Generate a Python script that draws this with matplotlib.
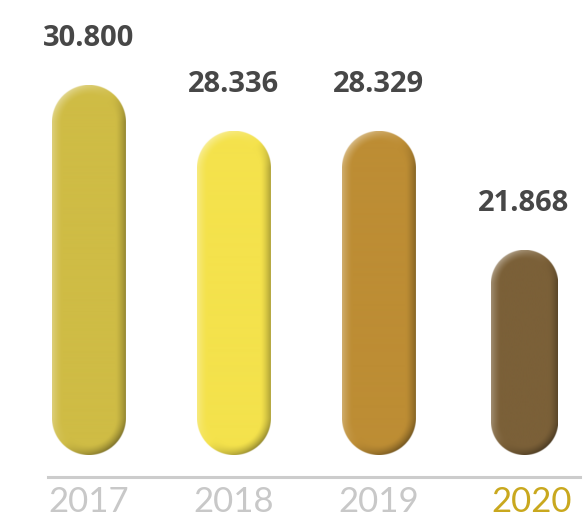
import numpy as np
import matplotlib.pyplot as plt
from matplotlib.colors import to_rgb

years = ['2017', '2018', '2019', '2020']
values = [30.800, 28.336, 28.329, 21.868]
value_labels = ['30.800', '28.336', '28.329', '21.868']
bar_colors = ['#CFBC45', '#F4E24C', '#BD8D34', '#7B6038']
year_colors = ['#C8C8C8', '#C8C8C8', '#C8C8C8', '#C9A81E']
bar_widths = [0.51, 0.51, 0.51, 0.46]

base = 10.75  # value where the bars start


def pill_rgba(color, w_px, h_px, ss=2):
    # pill shaped bar with bevel light from upper left
    nx, ny = int(round(w_px * ss)), int(round(h_px * ss))
    X = (np.arange(nx) + 0.5) / ss
    Y = (np.arange(ny) + 0.5) / ss
    X, Y = np.meshgrid(X, Y)
    r = w_px / 2
    qy = np.clip(Y, r, h_px - r)
    dx = X - r
    dy = Y - qy
    dist = np.sqrt(dx ** 2 + dy ** 2) + 1e-9
    alpha = np.clip((r - dist) * ss + 0.5, 0, 1)
    rho = dist / r
    bev = np.clip((rho - 0.72) / 0.28, 0, 1) ** 1.4
    L = np.array([-0.72, 0.69])
    shade = (dx * L[0] + dy * L[1]) / dist
    light = np.clip(shade, 0, None) * bev * 0.4
    dark = np.clip(-shade, 0, None) * bev * 0.4
    c = np.array(to_rgb(color))
    rgb = c[None, None, :] * (1 - dark[..., None])
    rgb = rgb + (1 - rgb) * light[..., None]
    return np.dstack([rgb, alpha])


fig = plt.figure(figsize=(5.85, 5.23), dpi=100)
ax = fig.add_axes([0, 0, 1, 1])
ax.set_xlim(-0.614, 3.421)
ax.set_ylim(7.06, 35.47)
ax.axis('off')

# pixels per data unit
px_x = 585 / (3.421 + 0.614)
px_y = 523 / (35.47 - 7.06)

for i, (v, col, w) in enumerate(zip(values, bar_colors, bar_widths)):
    img = pill_rgba(col, w * px_x, (v - base) * px_y)
    ax.imshow(img, extent=[i - w / 2, i + w / 2, base, v], origin='lower',
              aspect='auto', interpolation='bilinear', zorder=2)
    ax.annotate(value_labels[i], (i, v), xytext=(0, 34), textcoords='offset points',
                ha='center', va='center', fontsize=21, fontweight='bold',
                family='Open Sans', color='#474747')

ax.axhline(9.56, xmin=0.082, xmax=0.991, color='#CCCCCC', lw=2.2, zorder=1)

for i, (y, c) in enumerate(zip(years, year_colors)):
    ax.text(i + (0.05 if i == 3 else 0), 8.2, y, ha='center', va='center',
            fontsize=25, family='Lato', fontweight='normal', color=c)

fig.savefig('out.png', dpi=100)
